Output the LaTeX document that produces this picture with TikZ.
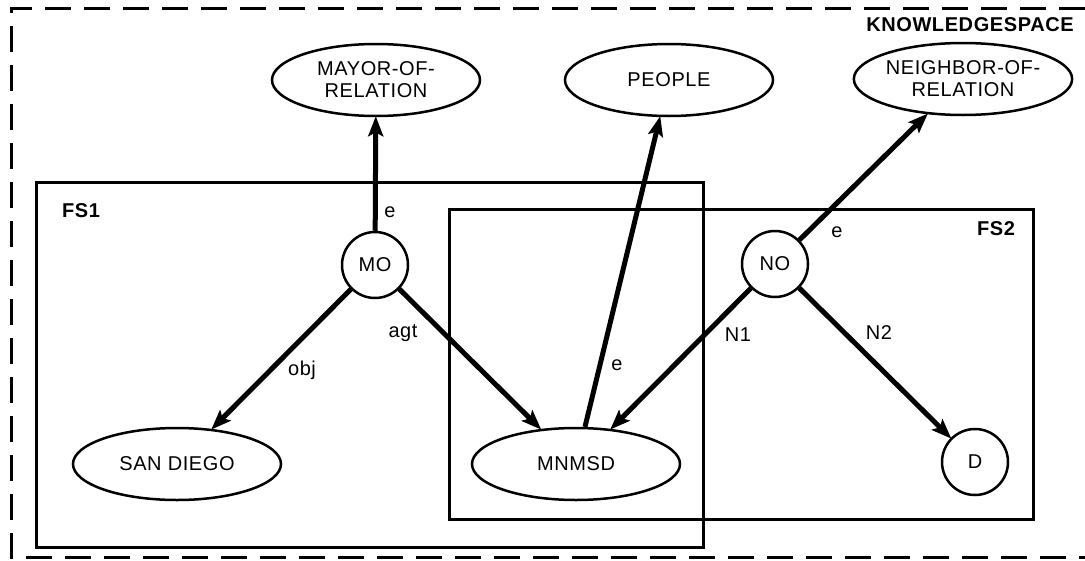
\documentclass[tikz,border=0pt]{standalone}
\usepackage{fontspec}
\setmainfont{Liberation Sans}[LetterSpace=3]
\usetikzlibrary{shapes.geometric,arrows.meta}
\begin{document}
\begin{tikzpicture}[x=1pt,y=-1pt,
  every node/.style={font=\fontsize{20}{22}\selectfont},
  oval/.style={draw,ellipse,line width=2.5pt,minimum width=208pt,minimum height=72pt,inner sep=0pt,align=center},
  circ/.style={draw,circle,line width=2.5pt,minimum size=66pt,inner sep=0pt},
  edge/.style={line width=5pt,-{Stealth[length=20pt,width=15pt,inset=4pt]},shorten >=-1pt},
  lab/.style={inner sep=0pt},
  boxl/.style={line width=3pt},
  bold/.style={font=\fontsize{20}{22}\selectfont\bfseries,inner sep=0pt}]
\useasboundingbox (0,0) rectangle (1085,560);
% outer dashed knowledge space
\draw[line width=3pt,dash pattern=on 26pt off 13pt] (1085,8) -- (11,8) -- (11,557) -- (1085,557);
\node[bold] (ks) at (970,25) {KNOWLEDGESPACE};
% frames
\draw[boxl] (36,182) rectangle (703,547);
\draw[boxl] (449,209) rectangle (1033,519);
\node[bold] (fs1) at (81,211) {FS1};
\node[bold] (fs2) at (996,229) {FS2};
% nodes
\node[oval] (mayor) at (376,80) {MAYOR-OF-\\RELATION};
\node[oval] (people) at (669,80) {PEOPLE};
\node[oval] (neigh) at (963,79) {NEIGHBOR-OF-\\RELATION};
\node[circ] (mo) at (375,265) {MO};
\node[circ] (no) at (775,264) {NO};
\node[circ] (d) at (975,462) {D};
\node[oval] (sd) at (177,464) {SAN DIEGO};
\node[oval] (mn) at (576,464) {MNMSD};
% edges
\draw[edge] (mo) -- (mayor);
\draw[edge] (mo) -- (sd);
\draw[edge] (mo) -- (mn);
\draw[edge] (mn) -- (people);
\draw[edge] (no) -- (neigh);
\draw[edge] (no) -- (mn);
\draw[edge] (no) -- (d);
% labels
\node[lab] (le1) at (390,212) {e};
\node[lab] (lagt) at (403,333) {agt};
\node[lab] (lobj) at (302,370) {obj};
\node[lab] (le2) at (617,365) {e};
\node[lab] (ln1) at (738,335) {N1};
\node[lab] (ln2) at (879,333) {N2};
\node[lab] (le3) at (837,232) {e};
\end{tikzpicture}
\end{document}
